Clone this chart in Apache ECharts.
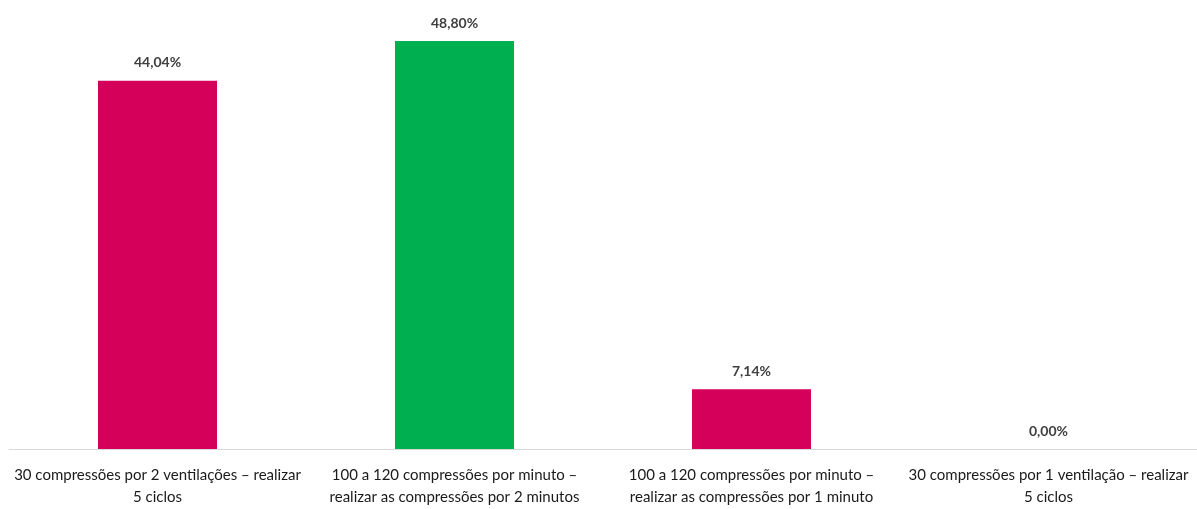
<!DOCTYPE html>
<html><head><meta charset="utf-8">
<script src="https://cdn.jsdelivr.net/npm/echarts@6/dist/echarts.min.js"></script>
<style>html,body{margin:0;padding:0;background:#fff}#c{width:1197px;height:509px}</style>
</head><body><div id="c"></div>
<script>
const categories = [
  "30 compressões por 2 ventilações – realizar\n5 ciclos",
  "100 a 120 compressões por minuto –\nrealizar as compressões por 2 minutos",
  "100 a 120 compressões por minuto –\nrealizar as compressões por 1 minuto",
  "30 compressões por 1 ventilação – realizar\n5 ciclos"
];
const values = [44.04, 48.80, 7.14, 0.00];
const barColors = ["#D5005A", "#00B050", "#D5005A", "#D5005A"];

const chart = echarts.init(document.getElementById('c'));
chart.setOption({
  animation: false,
  grid: {left: 9, right: 0, top: 41, bottom: 60, containLabel: false},
  xAxis: {
    type: 'category', data: categories,
    axisLine: {lineStyle: {color: '#D9D9D9', width: 1}},
    axisTick: {show: false},
    axisLabel: {interval: 0, color: '#1a1a1a', fontFamily: 'Lato', fontSize: 15, lineHeight: 22, margin: 15}
  },
  yAxis: {type: 'value', min: 0, max: 48.8, show: false, splitLine: {show: false}},
  series: [{
    type: 'bar', barWidth: 119,
    data: values.map((v, i) => ({value: v, itemStyle: {color: barColors[i]}})),
    label: {
      show: true, position: 'top', distance: 11,
      formatter: p => p.value.toFixed(2).replace('.', ',') + '%',
      color: '#404040', fontWeight: 'bold', fontFamily: 'Lato', fontSize: 14
    }
  }]
});
</script></body></html>
